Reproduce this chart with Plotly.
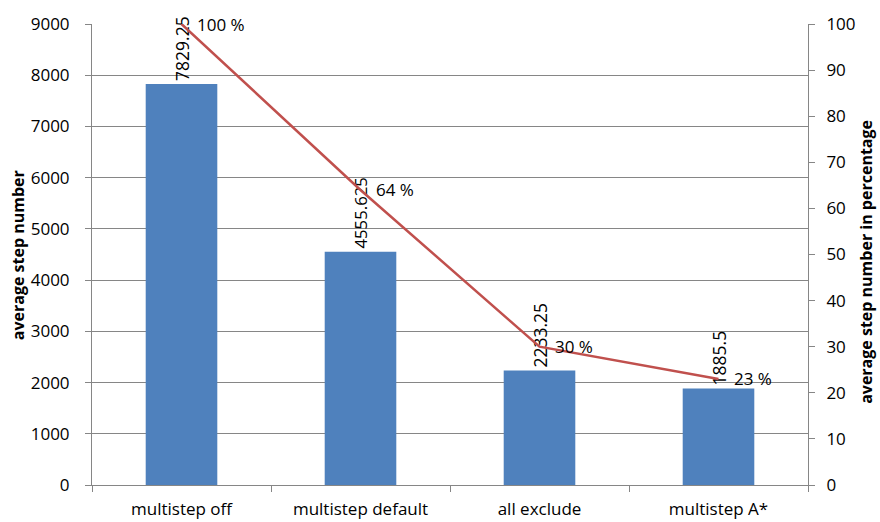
import plotly.graph_objects as go

categories = ["multistep off", "multistep default", "all exclude", "multistep A*"]
avg_steps = [7829.25, 4555.625, 2233.25, 1885.5]
step_labels = ["7829.25", "4555.625", "2233.25", "1885.5"]
percent = [100, 64, 30, 23]
percent_labels = ["100 %", "64 %", "30 %", "23 %"]

FONT = "Open Sans"
fig = go.Figure()
fig.add_trace(go.Bar(
    x=categories, y=avg_steps, text=step_labels, textposition="outside",
    textangle=-90, cliponaxis=False, marker=dict(color="#4F81BD", line=dict(width=0)),
    width=0.4, textfont=dict(family=FONT, size=17.5, color="#000000"),
))
fig.add_trace(go.Scatter(
    x=categories, y=percent, yaxis="y2", mode="lines", cliponaxis=False,
    line=dict(color="#C0504D", width=2.5),
))
for c, p, t in zip(categories, percent, percent_labels):
    fig.add_annotation(x=c, y=p, xref="x", yref="y2", text=t, showarrow=False,
                       xanchor="left", yanchor="middle", xshift=13, yshift=0,
                       font=dict(family=FONT, size=17, color="#000000"))
fig.add_annotation(x=-0.103, y=0.499, xref="paper", yref="paper", text="<b>average step number</b>",
                   textangle=-90, showarrow=False, xanchor="center", yanchor="middle",
                   font=dict(family=FONT, size=16, color="#000000"))
fig.add_annotation(x=1.081, y=0.484, xref="paper", yref="paper",
                   text="<b>average step number in percentage</b>",
                   textangle=-90, showarrow=False, xanchor="center", yanchor="middle",
                   font=dict(family=FONT, size=16, color="#000000"))
fig.update_layout(
    width=880, height=522, margin=dict(l=92, r=72, t=24, b=37),
    paper_bgcolor="white", plot_bgcolor="white", showlegend=False,
    font=dict(family=FONT, size=17, color="#000000"),
    xaxis=dict(type="category", tickson="boundaries", ticks="outside", ticklen=6,
               tickcolor="#868686", showline=True, linecolor="#868686", linewidth=1,
               showgrid=False, tickfont=dict(size=17), ticklabelstandoff=9, automargin=False),
    yaxis=dict(range=[0, 9000], tickvals=list(range(0, 9001, 1000)), ticks="outside",
               ticklen=6, tickcolor="#868686", showline=True, linecolor="#868686",
               gridcolor="#868686", gridwidth=1, zeroline=False, ticklabelstandoff=12,
               automargin=False),
    yaxis2=dict(range=[0, 100], tickvals=list(range(0, 101, 10)), overlaying="y", side="right",
                ticks="outside", ticklen=6, tickcolor="#868686", showline=True,
                linecolor="#868686", showgrid=False, zeroline=False, ticklabelstandoff=8,
                automargin=False),
)
fig.write_html("out.html")
